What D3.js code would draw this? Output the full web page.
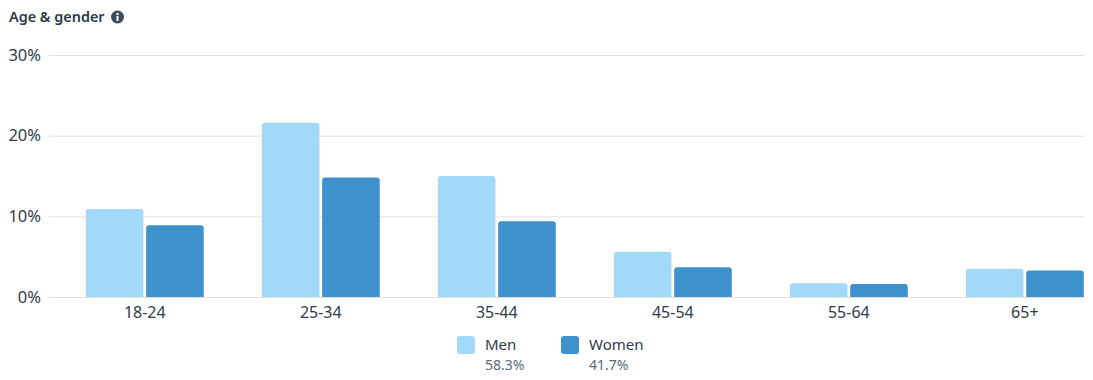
<!DOCTYPE html>
<html>
<head>
<meta charset="utf-8">
<script src="https://cdn.jsdelivr.net/npm/d3@7"></script>
<style>
html, body { margin: 0; padding: 0; background: #fff; overflow: hidden; }
text { font-family: "Noto Sans", sans-serif; }
</style>
</head>
<body>
<div id="chart"></div>
<script>
var categories = ["18-24", "25-34", "35-44", "45-54", "55-64", "65+"];
var men = [10.9, 21.6, 15.0, 5.6, 1.7, 3.5];
var women = [8.9, 14.8, 9.4, 3.7, 1.6, 3.3];
var yTicks = [0, 10, 20, 30];
var seriesNames = ["Men", "Women"];
var seriesTotals = ["58.3%", "41.7%"];
var seriesColors = ["#a2d9f9", "#3e92cc"];

var WIDTH = 1093, HEIGHT = 380;
var labelFont = '"Noto Sans", sans-serif';
var svg = d3.select("#chart").append("svg")
	.attr("width", WIDTH)
	.attr("height", HEIGHT)
	.style("display", "block");

var x = d3.scaleBand().domain(categories).range([85.8, 1083.8]).paddingInner(0.33).paddingOuter(0);
var x1 = d3.scaleBand().domain(seriesNames).range([0, x.bandwidth()]).paddingInner(0.045);
var y = d3.scaleLinear().domain([0, 30]).range([297, 55]);

// title
svg.append("text")
	.attr("x", 9).attr("y", 22)
	.attr("font-size", 14.4).attr("font-weight", 600)
	.attr("fill", "#2b3a48")
	.text("Age & gender");
var info = svg.append("g").attr("transform", "translate(117.5,17)");
info.append("circle").attr("r", 6.5).attr("fill", "#3a4a5a");
info.append("circle").attr("cy", -3).attr("r", 1.2).attr("fill", "#fff");
info.append("rect").attr("x", -1).attr("y", -1).attr("width", 2).attr("height", 5).attr("fill", "#fff");

// y grid and labels
var yAxis = svg.append("g")
	.attr("transform", "translate(49,0)")
	.call(d3.axisLeft(y).tickValues(yTicks).tickSize(-1035).tickPadding(8).tickFormat(function(d){ return d + "%"; }));
yAxis.select(".domain").remove();
yAxis.selectAll("line").attr("stroke", "#dcdfe3").attr("stroke-width", 1);
yAxis.selectAll("text")
	.attr("font-size", 16.5).attr("fill", "#2f3b47")
	.style("font-family", labelFont);

// bars, rounded on top only
function topRounded(bx, by, w, h, r){
	r = Math.min(r, h);
	return "M" + bx + "," + (by + h) + "V" + (by + r) + "Q" + bx + "," + by + " " + (bx + r) + "," + by +
		"H" + (bx + w - r) + "Q" + (bx + w) + "," + by + " " + (bx + w) + "," + (by + r) + "V" + (by + h) + "Z";
}
[men, women].forEach(function(values, s){
	svg.append("g").selectAll("path")
		.data(values)
		.enter()
		.append("path")
		.attr("fill", seriesColors[s])
		.attr("d", function(d, i){
			return topRounded(x(categories[i]) + x1(seriesNames[s]), y(d), x1.bandwidth(), y(0) - y(d), 3);
		});
});

// x labels
var xAxis = svg.append("g")
	.attr("transform", "translate(0,297)")
	.call(d3.axisBottom(x).tickSize(0).tickPadding(10));
xAxis.select(".domain").remove();
xAxis.selectAll("text")
	.attr("font-size", 16).attr("fill", "#2f3b47")
	.style("font-family", labelFont);

// legend
var legendX = [457, 561];
seriesNames.forEach(function(name, i){
	var g = svg.append("g").attr("transform", "translate(" + legendX[i] + ",336)");
	g.append("rect").attr("width", 18).attr("height", 18).attr("rx", 3).attr("fill", seriesColors[i]);
	g.append("text").attr("x", 28).attr("y", 14).attr("font-size", 15).attr("fill", "#2f3b47").text(name);
	g.append("text").attr("x", 28).attr("y", 34).attr("font-size", 14).attr("fill", "#5b6b7a").text(seriesTotals[i]);
});
</script>
</body>
</html>
